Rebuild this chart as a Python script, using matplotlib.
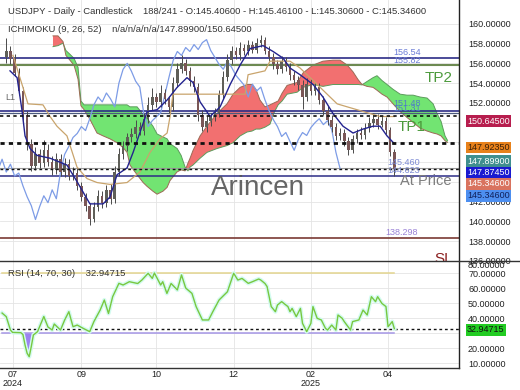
import numpy as np
import matplotlib.pyplot as plt
from matplotlib.lines import Line2D

plt.rcParams['font.family'] = ['Liberation Sans', 'DejaVu Sans']

# candles, one every second session (x = bar index)
candle_x = list(range(1, 188, 2))
opens = [156.6, 157.2, 156.4, 155.0, 153.2, 150.8, 147.8, 145.6, 146.8, 145.9,
         147.2, 146.0, 145.2, 146.3, 145.0, 145.8, 144.6, 144.9, 143.6, 142.5,
         141.6, 140.2, 141.5, 142.6, 141.9, 143.2, 142.3, 145.0, 146.8, 147.6,
         148.5, 148.9, 149.6, 149.2, 150.4, 151.8, 152.6, 152.1, 153.0, 152.4,
         151.6, 154.0, 155.4, 156.0, 155.2, 154.2, 153.6, 150.8, 149.6, 150.2,
         150.6, 151.0, 152.8, 154.6, 156.3, 157.2, 156.8, 157.6, 157.2, 157.9,
         157.4, 158.1, 158.4, 157.3, 156.6, 155.9, 155.4, 156.2, 155.6, 154.8,
         154.3, 153.8, 152.6, 153.9, 153.2, 153.6, 152.3, 151.2, 150.3, 149.6,
         148.6, 149.0, 148.1, 147.2, 148.3, 149.0, 148.7, 149.5, 150.0, 150.4,
         149.8, 150.2, 149.3, 147.0]
closes = [157.2, 156.4, 155.0, 153.2, 150.8, 147.8, 145.6, 146.8, 145.9, 147.2,
          146.0, 145.2, 146.3, 145.0, 145.8, 144.6, 144.9, 143.6, 142.5, 141.6,
          140.2, 141.5, 142.6, 141.9, 143.2, 142.3, 145.0, 146.8, 147.6, 148.5,
          148.9, 149.6, 149.2, 150.4, 151.8, 152.6, 152.1, 153.0, 152.4, 151.6,
          154.0, 155.4, 156.0, 155.2, 154.2, 153.6, 150.8, 149.6, 150.2, 150.6,
          151.0, 152.8, 154.6, 156.3, 157.2, 156.8, 157.6, 157.2, 157.9, 157.4,
          158.1, 158.4, 157.3, 156.6, 155.9, 155.4, 156.2, 155.6, 154.8, 154.3,
          153.8, 152.6, 153.9, 153.2, 153.6, 152.3, 151.2, 150.3, 149.6, 148.6,
          149.0, 148.1, 147.2, 148.3, 149.0, 148.7, 149.5, 150.0, 150.4, 149.8,
          150.2, 149.3, 147.0, 145.35]
highs = [158.6, 157.8, 156.9, 155.5, 153.6, 151.2, 148.3, 147.5, 147.3, 148.2,
         147.8, 146.6, 146.9, 146.8, 146.4, 146.3, 145.5, 145.4, 144.0, 142.9,
         141.9, 142.0, 143.2, 143.1, 143.7, 143.8, 145.6, 147.4, 148.1, 149.0,
         149.5, 150.3, 150.1, 151.0, 152.6, 153.5, 153.0, 153.8, 153.4, 152.7,
         154.6, 156.0, 156.8, 156.4, 155.6, 154.7, 154.0, 151.3, 150.7, 151.0,
         151.5, 153.3, 155.2, 156.9, 157.8, 157.7, 158.2, 158.0, 158.4, 158.3,
         158.6, 158.9, 158.7, 157.8, 157.0, 156.3, 156.7, 156.6, 156.0, 155.2,
         154.7, 154.3, 154.5, 154.4, 154.1, 154.0, 152.7, 151.7, 150.8, 150.0,
         149.5, 149.4, 148.5, 148.8, 149.4, 149.6, 150.0, 150.6, 151.0, 150.9,
         150.7, 150.6, 149.6, 147.3]
lows = [156.0, 155.9, 154.7, 152.8, 150.3, 147.2, 145.1, 145.2, 145.4, 145.5,
        145.6, 144.7, 144.8, 144.6, 144.5, 144.2, 144.2, 143.2, 142.1, 141.1,
        139.6, 139.9, 141.1, 141.4, 141.5, 141.8, 141.9, 144.6, 146.3, 147.1,
        148.0, 148.4, 148.8, 148.8, 150.0, 151.3, 151.6, 151.6, 151.9, 151.0,
        151.2, 153.6, 155.0, 154.8, 153.7, 153.1, 150.2, 149.2, 149.1, 149.7,
        150.2, 150.6, 152.4, 154.2, 155.9, 156.4, 156.3, 156.8, 156.8, 157.0,
        157.0, 157.7, 156.9, 156.2, 155.4, 154.9, 155.0, 155.2, 154.3, 153.8,
        153.3, 151.4, 152.2, 152.8, 152.8, 151.9, 150.8, 149.8, 149.1, 148.2,
        148.2, 147.6, 146.7, 146.9, 147.9, 148.3, 148.3, 149.1, 149.6, 149.4,
        149.6, 148.9, 146.6, 144.6]

# ichimoku lines
tenkan_x = [2.8, 6.2, 8.5, 10.0, 12.4, 15.7, 22.0, 30.1, 34.9, 41.1,
            47.4, 50.7, 54.1, 58.9, 61.8, 68.5, 73.3, 78.1, 82.9, 87.6,
            90.5, 93.9, 98.7, 103.5, 108.3, 113.1, 117.9, 124.1, 128.9, 133.7,
            137.0, 141.8, 148.1, 152.8, 157.6, 162.4, 167.2, 172.0, 176.8, 180.2,
            183.5, 187.0]
tenkan_v = [155.24, 154.55, 151.31, 148.66, 147.38, 146.69, 146.40, 145.71, 144.04, 141.78,
            141.78, 142.47, 144.73, 145.42, 146.99, 151.11, 151.31, 152.29, 153.57, 154.55,
            154.06, 152.10, 150.62, 151.60, 153.86, 155.83, 157.50, 157.79, 157.20, 156.52,
            155.53, 154.85, 153.86, 152.59, 150.92, 149.64, 148.95, 149.35, 149.64, 149.64,
            148.66, 147.87]
kijun_x = [4.2, 9.0, 11.4, 18.6, 22.0, 25.3, 30.1, 34.9, 39.7, 44.5,
           50.7, 58.9, 65.1, 69.9, 74.7, 78.1, 79.5, 80.9, 93.9, 115.5,
           116.9, 125.0, 127.4, 137.0, 141.8, 148.1, 154.8, 159.6, 164.4, 169.1,
           175.4, 180.2, 187.0]
kijun_v = [156.81, 153.57, 151.90, 151.80, 150.62, 149.64, 148.66, 145.51, 144.34, 143.94,
           143.75, 143.94, 145.02, 146.99, 148.36, 148.95, 150.62, 152.88, 152.88, 152.88,
           154.85, 155.24, 156.22, 156.22, 155.53, 154.26, 152.88, 151.90, 151.60, 151.31,
           150.92, 150.62, 150.62]

span_x = [23.4, 25.8, 28.2, 29.6, 31.6, 33.5, 35.4, 36.8, 38.3, 41.1,
          44.5, 47.4, 50.7, 54.1, 57.0, 58.9, 60.3, 63.7, 66.6, 68.5,
          71.3, 73.3, 76.1, 78.1, 79.5, 82.9, 84.8, 86.7, 88.1, 89.1,
          90.5, 93.9, 97.2, 102.0, 106.8, 109.7, 113.1, 116.4, 118.8, 120.7,
          122.6, 125.0, 127.4, 129.4, 131.3, 133.2, 135.6, 140.4, 143.3, 148.1,
          152.8, 157.6, 161.0, 164.4, 167.2, 169.6, 171.5, 173.9, 176.8, 178.7,
          181.1, 183.5, 186.4, 189.8, 193.1, 196.0, 199.4, 202.7, 205.6, 207.5,
          209.4, 211.3, 212.5]
span_a = [157.69, 157.79, 158.05, 157.30, 156.90, 156.50, 155.60, 152.19, 151.80, 151.80,
          151.80, 151.80, 151.80, 151.80, 151.80, 151.80, 151.60, 151.60, 150.82, 150.43,
          149.64, 148.85, 148.56, 148.36, 147.87, 147.38, 146.69, 145.51, 145.12, 145.51,
          145.71, 146.40, 146.99, 147.38, 147.68, 147.97, 148.66, 149.05, 149.15, 149.35,
          149.35, 149.54, 149.84, 151.02, 151.80, 152.19, 152.88, 153.08, 153.57, 153.86,
          153.67, 153.86, 153.86, 153.86, 153.86, 153.86, 153.82, 154.16, 154.55, 154.75,
          154.26, 153.86, 153.37, 152.88, 152.78, 152.78, 152.59, 152.49, 151.90, 150.92,
          150.13, 148.66, 148.20]
span_b = [158.78, 158.78, 158.20, 156.80, 156.30, 155.80, 154.40, 151.70, 151.31, 150.33,
          148.95, 148.66, 148.36, 147.97, 147.48, 146.99, 145.71, 144.73, 143.94, 143.55,
          143.06, 142.76, 143.06, 143.45, 144.14, 145.02, 145.22, 145.12, 145.91, 146.40,
          147.18, 148.66, 149.64, 150.92, 151.90, 152.88, 153.57, 153.86, 153.86, 153.37,
          152.29, 151.60, 151.80, 152.00, 152.19, 152.98, 153.77, 154.06, 155.04, 155.83,
          156.22, 156.32, 156.32, 155.83, 155.14, 154.36, 153.86, 153.67, 153.57, 153.28,
          152.88, 152.59, 151.90, 151.11, 150.52, 150.03, 149.44, 149.15, 148.95, 148.85,
          148.66, 148.17, 148.00]

# RSI(14)
rsi_x = [-1, 1, 3, 4, 8, 9, 10, 11, 12, 13, 14, 16, 19, 21, 23, 24, 27, 29, 31, 33,
         35, 38, 41, 43, 46, 48, 50, 52, 55, 57, 60, 64, 66, 69, 71, 72, 75, 76, 78, 80,
         83, 85, 87, 90, 92, 95, 98, 100, 103, 107, 110, 112, 114, 117, 119, 122, 123, 125, 126, 128,
         130, 131, 133, 136, 137, 138, 140, 142, 143, 145, 147, 148, 150, 152, 154, 155, 157, 159, 160, 162,
         163, 166, 167, 170, 172, 174, 176, 178, 179, 181, 183, 184, 186, 187]
rsi_v = [43.3, 40.9, 32.0, 30.4, 30.2, 29.0, 22.0, 16.5, 14.2, 21.0, 28.7, 30.9, 41.0, 34.0, 32.0, 36.0, 32.0, 38.7, 44.2, 34.2,
         35.3, 33.0, 30.9, 37.6, 45.3, 52.0, 43.0, 54.2, 63.1, 62.0, 64.2, 63.0, 65.3, 69.8, 66.4, 70.0, 62.0, 64.2, 56.4, 63.0,
         58.7, 68.7, 60.0, 56.4, 47.6, 38.7, 38.7, 44.2, 52.0, 57.5, 69.8, 65.3, 66.4, 63.1, 64.2, 66.0, 65.3, 63.0, 61.0, 47.6,
         44.2, 48.7, 50.9, 47.6, 44.2, 46.4, 40.9, 46.4, 36.4, 30.9, 36.4, 47.6, 39.8, 38.7, 33.1, 32.0, 35.3, 32.0, 42.0, 39.8,
         37.6, 32.0, 37.6, 38.7, 45.3, 42.0, 54.2, 50.9, 54.2, 49.8, 47.6, 34.2, 37.6, 32.9]

month_pos = [4, 37, 73, 110, 147, 184]
month_lbl = ['07\n2024', '09', '10', '12', '02\n2025', '04']
price_ticks = list(range(136, 162, 2))
hidden_price_ticks = [144, 146, 148]   # sit under the value badges
rsi_ticks = [10, 20, 30, 40, 50, 60, 70]

W, H = 520, 390
fig = plt.figure(figsize=(5.2, 3.9), dpi=100)
ax = fig.add_axes([0, 1 - 261 / H, 459 / W, 261 / H])
ax2 = fig.add_axes([0, 1 - 368 / H, 459 / W, 107 / H], sharex=ax)

ax.set_xlim(-2, 218)
ax.set_ylim(136.77, 162.41)
ax2.set_ylim(6.67, 78)

for a in (ax, ax2):
    for s in a.spines.values():
        s.set_visible(False)
    a.grid(color='#e4e4e4', lw=0.6)
    a.set_axisbelow(True)
    a.yaxis.tick_right()
    a.tick_params(length=0, labelsize=6.5, labelcolor='#222', pad=6.5)

ax.set_yticks(price_ticks)
ax.set_yticklabels(['' if v in hidden_price_ticks else '%.5f' % v for v in price_ticks])
ax.set_xticks(month_pos)
ax.tick_params(axis='x', labelbottom=False)
ax2.set_yticks(rsi_ticks)
ax2.set_yticklabels(['' if v == 30 else '%.5f' % v for v in rsi_ticks])
ax2.set_xticks(month_pos)
ax2.set_xticklabels(month_lbl, fontsize=6.5, linespacing=0.95)
ax2.tick_params(axis='x', pad=1.5)

# cloud
sa = np.array(span_a)
sb = np.array(span_b)
ax.fill_between(span_x, sa, sb, where=sa >= sb, interpolate=True, color='#72e472', lw=0, zorder=1)
ax.fill_between(span_x, sa, sb, where=sa < sb, interpolate=True, color='#f27070', lw=0, zorder=1)
ax.plot(span_x, span_a, color='#5c9c5c', lw=0.7, zorder=1.5)
ax.plot(span_x, span_b, color='#9c6a55', lw=0.7, zorder=1.5)

# candles
for x, o, h, l, c in zip(candle_x, opens, highs, lows, closes):
    col = '#5f5f58' if c >= o else '#7a5656'
    ax.vlines(x, l, h, color='#4a4a4a', lw=0.7, zorder=3)
    ax.bar(x, c - o, bottom=o, width=1.2, color=col, zorder=3)

# chikou = close shifted back 26 sessions
ax.plot(np.array(candle_x) - 26, closes, color='#7d9ce6', lw=0.9, zorder=2.5)
ax.plot(kijun_x, kijun_v, color='#c9a46c', lw=0.9, zorder=4)
ax.plot(tenkan_x, tenkan_v, color='#23238f', lw=1.0, zorder=4)

# horizontal levels
ax.axhline(156.54, color='#2c2c86', lw=1.2, zorder=2)
ax.axhline(155.82, color='#6d8a52', lw=1.5, zorder=2)
ax.axhline(151.18, color='#2c2c86', lw=1.2, zorder=2)
ax.axhline(150.95, color='#4c5a80', lw=0.9, zorder=2)
ax.axhline(150.645, color='#111', lw=1.2, ls=(0, (2, 2)), zorder=5)
ax.axhline(147.9235, color='#111', lw=2.0, ls=(0, (1.5, 1.5)), zorder=5)
ax.axhline(145.46, color='#9a9a9a', lw=0.8, zorder=2)
ax.axhline(145.346, color='#111', lw=1.0, ls=(0, (2, 2)), zorder=5)
ax.axhline(144.623, color='#2c2c86', lw=1.1, zorder=2)
ax.axhline(138.298, color='#7a3a34', lw=1.2, zorder=2)

lbl = dict(fontsize=6.5, va='bottom', ha='left', zorder=6)
ax.text(186.5, 156.6, '156.54', color='#6a7cd6', **lbl)
ax.text(186.5, 155.88, '155.82', color='#6a7cd6', **lbl)
ax.text(186.5, 151.5, '151.48', color='#4f7cc8', **lbl)
ax.text(186.5, 151.0, '151.31', color='#4f7cc8', **lbl)
ax.text(183.5, 145.5, '145.460', color='#7c8ad4', **lbl)
ax.text(183.5, 144.68, '144.623', color='#7c8ad4', **lbl)
ax.text(182.5, 138.45, '138.298', color='#9a82d6', **lbl)

ax.text(201.5, 154.55, 'TP2', color='#4c9a3c', fontsize=11, va='center', zorder=6)
ax.text(188.8, 149.55, 'TP1', color='#4c9a3c', fontsize=11, va='center', zorder=6)
ax.text(189.8, 144.1, 'At Price', color='#7d7d7d', fontsize=10.5, va='center', zorder=6)
ax.text(206.0, 136.2, 'SL', color='#8b2020', fontsize=11, va='center', zorder=6, clip_on=True)
ax.text(0.5, 152.5, 'L1', color='#666', fontsize=6.5, va='center', zorder=6)
ax.text(121.7, 143.4, 'Arincen', color='#555', fontsize=20, ha='center', va='center', alpha=0.9, zorder=7)

# RSI panel
rv = np.array(rsi_v)
ax2.plot([rsi_x[0], 187], [70, 70], color='#e3d58e', lw=1.1, zorder=2)
ax2.plot([rsi_x[0], 187], [30, 30], color='#a596e6', lw=1.1, zorder=2)
ax2.fill_between(rsi_x, rv, 30, where=rv < 30, interpolate=True, color='#9b82f0', lw=0, zorder=2)
ax2.axhline(32.94715, color='#111', lw=1.0, ls=(0, (2, 2)), zorder=3)
ax2.plot(rsi_x, rsi_v, color='#d4fbf0', lw=3, zorder=3)
ax2.plot(rsi_x, rsi_v, color='#78c840', lw=1.0, zorder=4)

# frame lines
fig.add_artist(Line2D([459 / W, 459 / W], [1 - 368 / H, 1], color='#222', lw=1))
fig.add_artist(Line2D([0, 1], [1 - 261 / H, 1 - 261 / H], color='#333', lw=1))
fig.add_artist(Line2D([0, 459 / W], [1 - 368 / H, 1 - 368 / H], color='#333', lw=1))

# header texts
fig.text(8 / W, 1 - 11 / H, 'USDJPY - Daily - Candlestick    188/241 - O:145.40600 - H:145.46100 - L:145.30600 - C:145.34600',
         fontsize=6.8, color='#333', va='center')
fig.text(8 / W, 1 - 29 / H, 'ICHIMOKU (9, 26, 52)    n/a/n/a/n/a/147.89900/150.64500',
         fontsize=6.8, color='#333', va='center')
fig.text(8 / W, 1 - 273 / H, 'RSI (14, 70, 30)    32.94715', fontsize=6.8, color='#333', va='center')
fig.text(468 / W, 1 - 266 / H, '80.00000', fontsize=6.5, color='#222', va='center')

# value badges on the price scale
badges = [(121, '150.64500', '#b71d4e', 'white'),
          (147.5, '147.92350', '#e8821c', '#3a2008'),
          (161, '147.89900', '#3f8f8f', 'white'),
          (172.5, '147.87450', '#1a1ad0', 'white'),
          (184, '145.34600', '#d9735f', 'white'),
          (196, '145.34600', '#4d8ff0', '#10205a'),
          (330, '32.94715', '#22cc22', '#111')]
for yy, t, fc, tc in badges:
    fig.text(467 / W, 1 - yy / H, t, fontsize=6.5, color=tc, va='center',
             bbox=dict(boxstyle='square,pad=0.15', fc=fc, ec='none'), zorder=10)

fig.savefig('out.png', dpi=100)
